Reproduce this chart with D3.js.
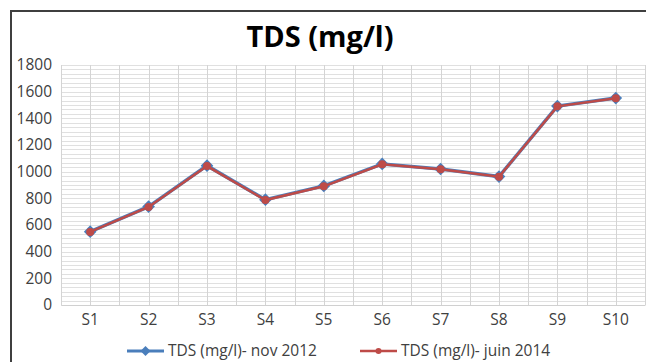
<!DOCTYPE html>
<html>
<head>
<meta charset="utf-8">
<script src="https://cdn.jsdelivr.net/npm/d3@7"></script>
<style>
  body { margin: 0; background: #fff; }
  svg { display: block; font-family: "Open Sans", "Liberation Sans", sans-serif; }
</style>
</head>
<body>
<svg id="chart" width="646" height="362"></svg>
<script>
// --- data
const categories = ["S1", "S2", "S3", "S4", "S5", "S6", "S7", "S8", "S9", "S10"]
const nov2012 = [550, 738, 1045, 790, 893, 1058, 1020, 963, 1492, 1552]
const juin2014 = [548, 735, 1042, 787, 890, 1055, 1018, 962, 1490, 1550]
const yTicks = [0, 200, 400, 600, 800, 1000, 1200, 1400, 1600, 1800]
const seriesNames = ["TDS (mg/l)- nov 2012", "TDS (mg/l)- juin 2014"]

const svg = d3.select("#chart")
const plot = { left: 61, right: 645, top: 65, bottom: 305 }

// chart frame (only left + top edges are visible in the crop)
svg.append("path")
    .attr("d", "M11,362V11H646")
    .attr("fill", "none")
    .attr("stroke", "#3f3f3f")
    .attr("stroke-width", 2)

svg.append("text")
    .attr("x", 320)
    .attr("y", 47)
    .attr("text-anchor", "middle")
    .attr("font-size", 29)
    .attr("font-weight", "bold")
    .attr("fill", "#000")
    .text("TDS (mg/l)")

const x = d3.scaleBand().domain(categories).range([plot.left, plot.right]).padding(0)
const cx = d => x(d) + x.bandwidth() / 2
const y = d3.scaleLinear().domain([0, 1800]).range([plot.bottom, plot.top])

// minor horizontal gridlines
const minor = d3.range(0, 1800 + 1, 200 / 6)
svg.append("g").selectAll("line")
    .data(minor)
    .join("line")
    .attr("x1", plot.left).attr("x2", plot.right)
    .attr("y1", d => Math.round(y(d)) + 0.5).attr("y2", d => Math.round(y(d)) + 0.5)
    .attr("stroke", "#e0e0e0")
    .attr("stroke-width", 1)

// vertical gridlines at band edges and centres
const vlines = []
categories.forEach(c => { vlines.push(x(c)); vlines.push(cx(c)) })
vlines.push(plot.right)
svg.append("g").selectAll("line")
    .data(vlines)
    .join("line")
    .attr("x1", d => Math.round(d) + 0.5).attr("x2", d => Math.round(d) + 0.5)
    .attr("y1", plot.top).attr("y2", plot.bottom)
    .attr("stroke", "#d4d4d4")
    .attr("stroke-width", 1)

// axes
const yAxis = svg.append("g")
    .attr("transform", `translate(${plot.left},0)`)
    .call(d3.axisLeft(y).tickValues(yTicks).tickFormat(d3.format("d")).tickSize(0).tickPadding(9))
yAxis.select(".domain").remove()
yAxis.selectAll("text").attr("font-size", 15.5).attr("fill", "#404040")
    .attr("font-family", "'Open Sans', sans-serif")

const xAxis = svg.append("g")
    .attr("transform", `translate(0,${plot.bottom})`)
    .call(d3.axisBottom(x).tickSize(0).tickPadding(9))
xAxis.select(".domain").attr("stroke", "#d0d0d0")
xAxis.selectAll("text").attr("font-size", 15.5).attr("fill", "#404040")
    .attr("font-family", "'Open Sans', sans-serif")

// series
const line = d3.line().x((d, i) => cx(categories[i])).y(d => y(d))
const diamond = d3.symbol().type(d3.symbolSquare).size(80)

svg.append("path")
    .datum(nov2012)
    .attr("d", line)
    .attr("fill", "none")
    .attr("stroke", "#4a7ebb")
    .attr("stroke-width", 3.5)

svg.append("g").selectAll("path")
    .data(nov2012)
    .join("path")
    .attr("d", diamond)
    .attr("transform", (d, i) => `translate(${cx(categories[i])},${y(d)}) rotate(45)`)
    .attr("fill", "#4a7ebb")

svg.append("path")
    .datum(juin2014)
    .attr("d", line)
    .attr("fill", "none")
    .attr("stroke", "#be4b48")
    .attr("stroke-width", 2.5)

svg.append("g").selectAll("circle")
    .data(juin2014)
    .join("circle")
    .attr("cx", (d, i) => cx(categories[i]))
    .attr("cy", d => y(d))
    .attr("r", 4)
    .attr("fill", "#be4b48")

// legend
const legend = svg.append("g").attr("transform", "translate(0,351)")
const legendX = [127, 360]
seriesNames.forEach((name, i) => {
    const g = legend.append("g").attr("transform", `translate(${legendX[i]},0)`)
    const col = i === 0 ? "#4a7ebb" : "#be4b48"
    g.append("line").attr("x1", 0).attr("x2", 37).attr("y1", 0).attr("y2", 0)
        .attr("stroke", col).attr("stroke-width", i === 0 ? 3 : 2.5)
    if (i === 0) {
        g.append("path").attr("d", d3.symbol().type(d3.symbolSquare).size(50))
            .attr("transform", "translate(18.5,0) rotate(45)").attr("fill", col)
    } else {
        g.append("circle").attr("cx", 18.5).attr("cy", 0).attr("r", 3).attr("fill", col)
    }
    g.append("text").attr("x", 41).attr("y", 0).attr("dy", "0.35em")
        .attr("font-size", 15.5).attr("fill", "#404040")
        .text(name)
})
</script>
</body>
</html>
